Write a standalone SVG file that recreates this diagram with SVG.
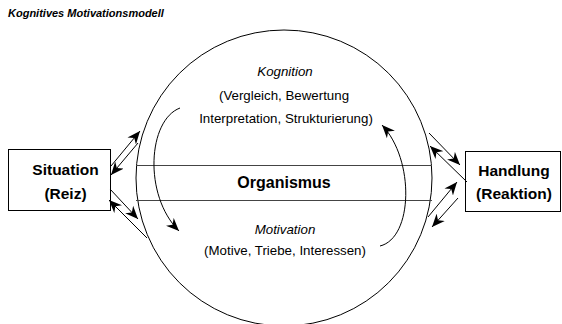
<svg xmlns="http://www.w3.org/2000/svg" width="562" height="324" viewBox="0 0 562 324">
<style>
.t{font-family:"Liberation Sans",Arial,sans-serif;fill:#000}
.b{font-weight:bold}
.i{font-style:italic}
.ln{stroke:#000;stroke-width:1;fill:none}
.box{fill:#fff;stroke:#000;stroke-width:1}
</style>
<defs>
<marker id="ah" markerUnits="userSpaceOnUse" markerWidth="14" markerHeight="12" refX="13" refY="6" orient="auto">
<path d="M0,0.5 L13,6 L0,11.5 L4,6 Z" fill="#000"/>
</marker>
</defs>
<rect width="562" height="324" fill="#fff"/>
<text class="t b i" x="8" y="17" font-size="11">Kognitives Motivationsmodell</text>
<g id="organismus">
<circle cx="284" cy="178" r="148" class="ln"/>
<line x1="136" y1="165.5" x2="432" y2="165.5" stroke="#444" stroke-width="1"/>
<line x1="136" y1="200.5" x2="432" y2="200.5" stroke="#444" stroke-width="1"/>
<text class="t b" x="284" y="188" font-size="16" text-anchor="middle">Organismus</text>
<text class="t i" x="285" y="76" font-size="13.3" text-anchor="middle">Kognition</text>
<text class="t" x="284" y="100" font-size="13.3" text-anchor="middle">(Vergleich, Bewertung</text>
<text class="t" x="286" y="123" font-size="13.3" text-anchor="middle">Interpretation, Strukturierung)</text>
<text class="t i" x="285" y="234" font-size="13.3" text-anchor="middle">Motivation</text>
<text class="t" x="285" y="255" font-size="13.3" text-anchor="middle">(Motive, Triebe, Interessen)</text>
</g>
<g id="situation">
<rect class="box" x="8.5" y="149.5" width="102" height="61"/>
<text class="t b" x="65.5" y="175" font-size="15.5" text-anchor="middle">Situation</text>
<text class="t b" x="65.5" y="199" font-size="15.5" text-anchor="middle">(Reiz)</text>
</g>
<g id="handlung">
<rect class="box" x="465.5" y="151.5" width="95" height="60"/>
<text class="t b" x="514" y="176" font-size="15.5" text-anchor="middle">Handlung</text>
<text class="t b" x="514" y="199" font-size="15.5" text-anchor="middle">(Reaktion)</text>
</g>
<g id="connectors" class="ln" marker-end="url(#ah)">
<line x1="111" y1="166" x2="140" y2="131"/>
<line x1="138" y1="143" x2="111" y2="175"/>
<line x1="110" y1="189" x2="138" y2="219"/>
<line x1="147" y1="238" x2="109" y2="200"/>
<line x1="467" y1="182" x2="430" y2="146"/>
<line x1="429" y1="133" x2="460" y2="165"/>
<line x1="428" y1="217" x2="457" y2="182"/>
<line x1="458" y1="198" x2="432" y2="227"/>
<path d="M180,108 C148,120 143,195 179,231"/>
<path d="M380,246 C413,238 415,160 382,125"/>
</g>
</svg>
